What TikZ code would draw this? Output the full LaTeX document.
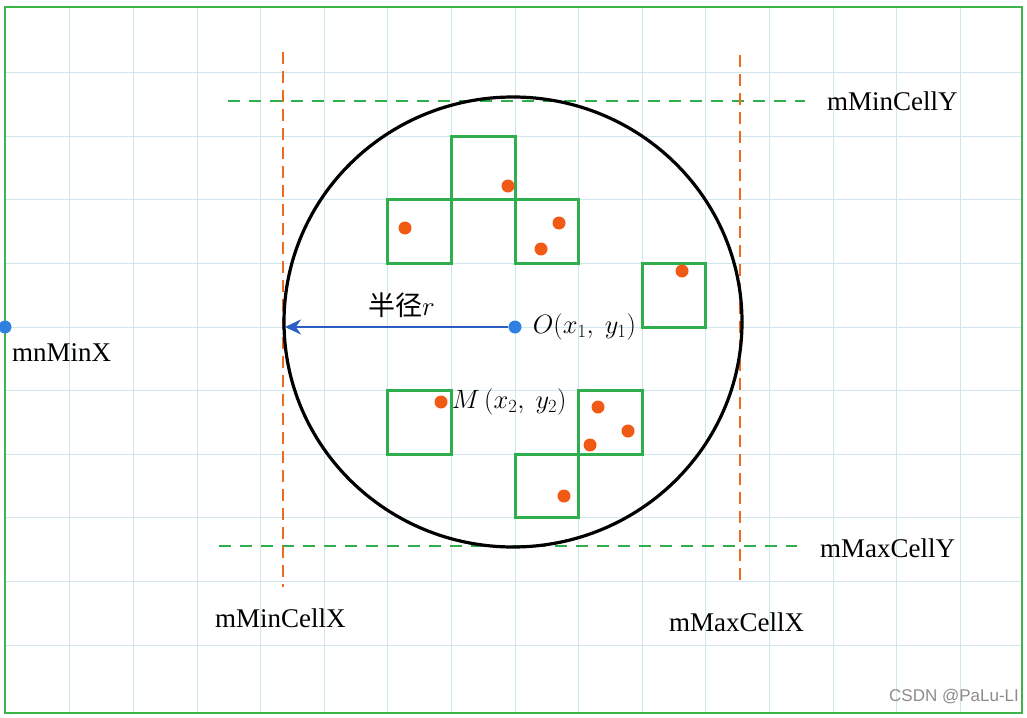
\RequirePackage{fix-cm}
\documentclass[tikz,border=0pt]{standalone}
\usepackage{fontspec}
\setmainfont{Liberation Serif}
\newfontfamily\cjk{Noto Sans CJK SC}
\newfontfamily\wmark{Liberation Sans}
\usetikzlibrary{arrows.meta,positioning}
\definecolor{gridCyan}{HTML}{CFE6EC}
\definecolor{frameGreen}{HTML}{3DB54A}
\definecolor{cellGreen}{HTML}{2FAE4E}
\definecolor{boundOrange}{HTML}{EE6A1E}
\definecolor{ptRed}{HTML}{F05A14}
\definecolor{ptBlue}{HTML}{2F80E0}
\definecolor{arrBlue}{HTML}{2C5EC4}
\tikzset{
  gridline/.style={draw=gridCyan, line width=1pt},
  frame/.style={draw=frameGreen, line width=2.6pt},
  boundx/.style={draw=boundOrange, line width=2.8pt, dash pattern=on 12pt off 7pt},
  boundy/.style={draw=cellGreen, line width=2.8pt, dash pattern=on 12pt off 9pt},
  cell/.style={draw=cellGreen, line width=3pt},
  pt/.style={circle, fill=ptRed, inner sep=0pt, minimum size=13pt},
  cpt/.style={circle, fill=ptBlue, inner sep=0pt, minimum size=13pt},
  lbl/.style={font=\fontsize{27}{30}\selectfont, inner sep=0pt, text=black},
  mlbl/.style={font=\fontsize{26.5}{30}\selectfont, inner sep=0pt, text=black},
  radius arrow/.style={-{Stealth[length=16pt,width=15pt]}, draw=arrBlue, line width=2.8pt}
}

\begin{document}
\begin{tikzpicture}[x=1pt,y=-1pt]
\useasboundingbox (0,0) rectangle (1027,717);
\fill[white] (0,0) rectangle (1027,717);
% background grid
\foreach \k in {-7,...,7} \draw[gridline] (515+63.6*\k,7) -- (515+63.6*\k,713);
\foreach \k in {-4,...,5} \draw[gridline] (5,327+63.6*\k) -- (1022,327+63.6*\k);
\draw[frame] (5,7) rectangle (1022,713);
% cells
\foreach \i/\j in {-1/-3,-2/-2,0/-2,2/-1,-2/1,1/1,0/2}
  \draw[cell] (515+63.6*\i,327+63.6*\j) rectangle ++(63.6,63.6);
% search bounds
\draw[boundy] (228,101) -- (805,101);
\draw[boundy] (219,546) -- (797,546);
\draw[boundx] (283,52) -- (283,587);
\draw[boundx] (740,55) -- (740,587);
\draw[black, line width=3.2pt] (513,322) ellipse [x radius=229, y radius=225];
% points
\node[pt] (p1) at (508,186) {};
\node[pt] (p2) at (405,228) {};
\node[pt] (p3) at (559,223) {};
\node[pt] (p4) at (541,249) {};
\node[pt] (p5) at (682,271) {};
\node[pt] (M) at (441,402) {};
\node[pt] (p6) at (598,407) {};
\node[pt] (p7) at (628,431) {};
\node[pt] (p8) at (590,445) {};
\node[pt] (p9) at (564,496) {};
\node[cpt] (O) at (515,327) {};
\node[cpt] (minx) at (5,327) {};
\coordinate (rl) at (285,327);
\draw[radius arrow] (O) -- (rl);
% labels
\node[mlbl, right=11pt of O] (Olbl) {$O(x_1,\ y_1)$};
\node[mlbl, right=4pt of M] (Mlbl) {$M\,(x_2,\ y_2)$};
\node[lbl, anchor=south west] (rlbl) at (368,318) {{\cjk 半径}$r$};
\node[lbl, anchor=west] (minxlbl) at (12,353) {mnMinX};
\node[lbl, anchor=west] (minylbl) at (827,101) {mMinCellY};
\node[lbl, anchor=west] (maxylbl) at (820,548) {mMaxCellY};
\node[lbl, anchor=west] (minclbl) at (215,618) {mMinCellX};
\node[lbl, anchor=west] (maxclbl) at (669,622) {mMaxCellX};
\node[font=\wmark\fontsize{17}{20}\selectfont, text=black!45, anchor=west, inner sep=0pt] (wm) at (889,697) {CSDN @PaLu-LI};
\end{tikzpicture}
\end{document}
